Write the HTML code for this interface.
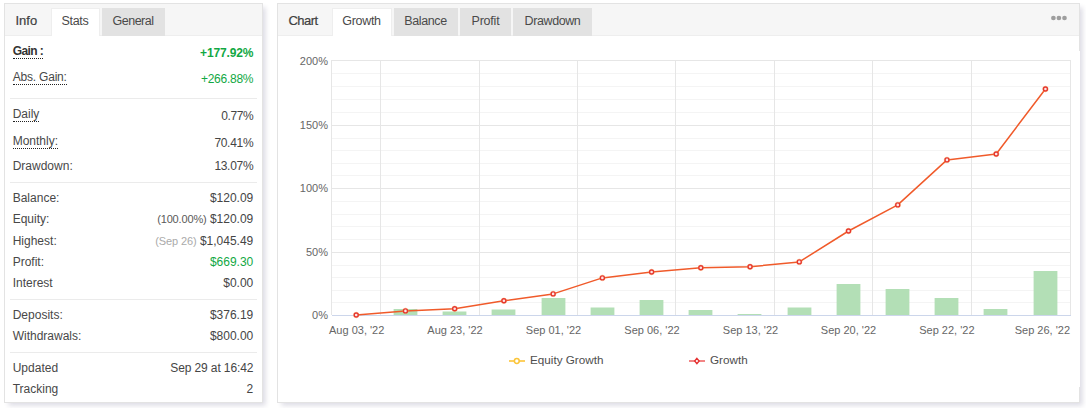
<!DOCTYPE html>
<html><head><meta charset="utf-8">
<style>
*{box-sizing:border-box;margin:0;padding:0}
html,body{width:1086px;height:408px;overflow:hidden;background:#fff}
body{position:relative;font-family:"Liberation Sans",sans-serif;color:#333}
.panel{position:absolute;background:#fff;border:1px solid #e3e3e3;box-shadow:3px 3px 5px -0.5px rgba(40,30,90,0.16)}
.tabbar{position:absolute;left:0;top:0;right:0;height:32px;background:#f6f6f6;border-bottom:1px solid #eeeeee}
.tab{position:absolute;top:4px;height:28px;background:#e2e2e2;font-size:12.5px;line-height:15px;color:#4a4a4a;text-align:center;padding-top:6px;white-space:nowrap}
.tab.act{background:#fff;height:28px;border:1px solid #eee;border-bottom:none;padding-top:5px}
.lbl{position:absolute;font-size:13px;line-height:15px;color:#404040;white-space:nowrap;-webkit-text-stroke:0.2px #404040}
.r{position:absolute;left:7.7px;width:240.6px;height:14px;font-size:12px;line-height:14px;white-space:nowrap}
.r .k{position:absolute;left:0;top:0;color:#484848}
.r .k.u{border-bottom:1px dotted #222;height:15px}
.r .v{position:absolute;right:0;top:0;color:#454545;text-align:right}
.g{color:#12a844!important}
.sep{position:absolute;left:5px;width:247px;height:1px;background:#ebebeb}
.sm{font-size:11px;color:#5a5a5a}
.lt{font-size:11px;color:#aaa}
</style></head><body>

<!-- LEFT PANEL -->
<div class="panel" style="left:4px;top:3px;width:259px;height:400px">
  <div class="tabbar"></div>
  <div class="lbl" style="left:10.5px;top:9px">Info</div>
  <div class="tab act" style="left:46px;width:49px;letter-spacing:-0.3px;text-indent:-1px">Stats</div>
  <div class="tab" style="left:97px;width:63px;letter-spacing:-0.5px;text-indent:-1px">General</div>

  <div class="r" style="top:40px"><span class="k u" style="font-weight:bold;color:#333;letter-spacing:-0.6px">Gain :</span><span class="v g" style="top:2px;font-weight:bold;letter-spacing:-0.15px">+177.92%</span></div>
  <div class="r" style="top:66px"><span class="k u" style="letter-spacing:-0.2px">Abs. Gain:</span><span class="v g" style="top:2px;letter-spacing:-0.25px">+266.88%</span></div>
  <div class="sep" style="top:94px"></div>
  <div class="r" style="top:103px"><span class="k u">Daily</span><span class="v" style="top:2px;letter-spacing:-0.4px">0.77%</span></div>
  <div class="r" style="top:130px"><span class="k u">Monthly:</span><span class="v" style="top:2px;letter-spacing:-0.3px">70.41%</span></div>
  <div class="r" style="top:155px"><span class="k">Drawdown:</span><span class="v" style="letter-spacing:-0.3px">13.07%</span></div>
  <div class="sep" style="top:178px"></div>
  <div class="r" style="top:187px"><span class="k">Balance:</span><span class="v">$120.09</span></div>
  <div class="r" style="top:208px"><span class="k">Equity:</span><span class="v"><span class="sm" style="letter-spacing:-0.15px">(100.00%)</span> $120.09</span></div>
  <div class="r" style="top:230px"><span class="k">Highest:</span><span class="v"><span class="lt" style="letter-spacing:-0.1px">(Sep 26)</span> $1,045.49</span></div>
  <div class="r" style="top:251px"><span class="k">Profit:</span><span class="v g">$669.30</span></div>
  <div class="r" style="top:272px"><span class="k">Interest</span><span class="v">$0.00</span></div>
  <div class="sep" style="top:295px"></div>
  <div class="r" style="top:304px"><span class="k">Deposits:</span><span class="v">$376.19</span></div>
  <div class="r" style="top:325px"><span class="k">Withdrawals:</span><span class="v">$800.00</span></div>
  <div class="sep" style="top:348px"></div>
  <div class="r" style="top:357px"><span class="k">Updated</span><span class="v" style="letter-spacing:-0.12px">Sep 29 at 16:42</span></div>
  <div class="r" style="top:378px"><span class="k">Tracking</span><span class="v">2</span></div>
</div>

<!-- RIGHT PANEL -->
<div class="panel" style="left:277px;top:3px;width:803px;height:400px">
  <div class="tabbar"></div>
  <div class="lbl" style="left:10.5px;top:9px;letter-spacing:-0.55px">Chart</div>
  <div class="tab act" style="left:54px;width:60px;letter-spacing:-0.3px;text-indent:-1px">Growth</div>
  <div class="tab" style="left:116px;width:64px;letter-spacing:-0.4px;text-indent:-1px">Balance</div>
  <div class="tab" style="left:182px;width:51px;letter-spacing:-0.2px">Profit</div>
  <div class="tab" style="left:235px;width:79px;letter-spacing:-0.4px">Drawdown</div>
</div>

<div style="position:absolute;left:1079px;top:51px;width:1px;height:336px;background:#fff"></div>
<svg width="1086" height="408" style="position:absolute;left:0;top:0">
  <g fill="#9e9e9e"><circle cx="1053.4" cy="18" r="2.35"/><circle cx="1058.9" cy="18" r="2.35"/><circle cx="1064.5" cy="18" r="2.35"/></g>
  <!-- minor grid -->
  <g stroke="#f4f4f4" stroke-width="1" shape-rendering="crispEdges" ><line x1="332" y1="73.5" x2="1070" y2="73.5"/><line x1="332" y1="86.5" x2="1070" y2="86.5"/><line x1="332" y1="99.5" x2="1070" y2="99.5"/><line x1="332" y1="112.5" x2="1070" y2="112.5"/><line x1="332" y1="138.5" x2="1070" y2="138.5"/><line x1="332" y1="150.5" x2="1070" y2="150.5"/><line x1="332" y1="163.5" x2="1070" y2="163.5"/><line x1="332" y1="175.5" x2="1070" y2="175.5"/><line x1="332" y1="201.5" x2="1070" y2="201.5"/><line x1="332" y1="214.5" x2="1070" y2="214.5"/><line x1="332" y1="226.5" x2="1070" y2="226.5"/><line x1="332" y1="239.5" x2="1070" y2="239.5"/><line x1="332" y1="265.5" x2="1070" y2="265.5"/><line x1="332" y1="277.5" x2="1070" y2="277.5"/><line x1="332" y1="290.5" x2="1070" y2="290.5"/><line x1="332" y1="302.5" x2="1070" y2="302.5"/></g>
  <g stroke="#e6e6e6" stroke-width="1" shape-rendering="crispEdges" ><line x1="331" y1="60.5" x2="1071" y2="60.5"/><line x1="331" y1="125.5" x2="1071" y2="125.5"/><line x1="331" y1="188.5" x2="1071" y2="188.5"/><line x1="331" y1="252.5" x2="1071" y2="252.5"/><line x1="331.5" y1="60" x2="331.5" y2="315"/><line x1="380.5" y1="60" x2="380.5" y2="315"/><line x1="479.5" y1="60" x2="479.5" y2="315"/><line x1="577.5" y1="60" x2="577.5" y2="315"/><line x1="675.5" y1="60" x2="675.5" y2="315"/><line x1="774.5" y1="60" x2="774.5" y2="315"/><line x1="872.5" y1="60" x2="872.5" y2="315"/><line x1="971.5" y1="60" x2="971.5" y2="315"/><line x1="1070.5" y1="60" x2="1070.5" y2="315"/></g>
  <g fill="#b3dfb6"><rect x="393.6" y="309" width="23.8" height="6"/><rect x="442.6" y="311.5" width="23.8" height="3.5"/><rect x="491.6" y="309.5" width="23.8" height="5.5"/><rect x="541.6" y="298" width="23.8" height="17"/><rect x="590.6" y="307.5" width="23.8" height="7.5"/><rect x="639.6" y="300" width="23.8" height="15"/><rect x="688.6" y="310" width="23.8" height="5"/><rect x="737.6" y="314" width="23.8" height="1"/><rect x="787.6" y="307.5" width="23.8" height="7.5"/><rect x="836.6" y="284" width="23.8" height="31"/><rect x="885.6" y="289" width="23.8" height="26"/><rect x="934.6" y="298" width="23.8" height="17"/><rect x="983.6" y="309" width="23.8" height="6"/><rect x="1033.6" y="271" width="23.8" height="44"/></g>
  <line x1="332" y1="315.5" x2="1071" y2="315.5" stroke="#ccd6eb" stroke-width="1"/>
  <polyline fill="none" stroke="#f05a2a" stroke-width="1.5" stroke-linejoin="round" points="356.22,315 405.45,310.9 454.68,308.8 503.9,300.8 553.13,293.9 602.37,277.9 651.6,272 700.83,267.8 750.06,266.8 799.28,261.9 848.51,231 897.75,204.9 946.98,159.9 996.2,154 1045.43,89"/>
  <g fill="#fde6e4" stroke="#e6362e" stroke-width="1.4"><circle cx="356.22" cy="315" r="2.8" fill="none" stroke="#f9a94a" stroke-width="0.8" stroke-opacity="0.55"/><circle cx="356.22" cy="315" r="2.0"/><circle cx="405.45" cy="310.9" r="2.8" fill="none" stroke="#f9a94a" stroke-width="0.8" stroke-opacity="0.55"/><circle cx="405.45" cy="310.9" r="2.0"/><circle cx="454.68" cy="308.8" r="2.8" fill="none" stroke="#f9a94a" stroke-width="0.8" stroke-opacity="0.55"/><circle cx="454.68" cy="308.8" r="2.0"/><circle cx="503.9" cy="300.8" r="2.8" fill="none" stroke="#f9a94a" stroke-width="0.8" stroke-opacity="0.55"/><circle cx="503.9" cy="300.8" r="2.0"/><circle cx="553.13" cy="293.9" r="2.8" fill="none" stroke="#f9a94a" stroke-width="0.8" stroke-opacity="0.55"/><circle cx="553.13" cy="293.9" r="2.0"/><circle cx="602.37" cy="277.9" r="2.8" fill="none" stroke="#f9a94a" stroke-width="0.8" stroke-opacity="0.55"/><circle cx="602.37" cy="277.9" r="2.0"/><circle cx="651.6" cy="272" r="2.8" fill="none" stroke="#f9a94a" stroke-width="0.8" stroke-opacity="0.55"/><circle cx="651.6" cy="272" r="2.0"/><circle cx="700.83" cy="267.8" r="2.8" fill="none" stroke="#f9a94a" stroke-width="0.8" stroke-opacity="0.55"/><circle cx="700.83" cy="267.8" r="2.0"/><circle cx="750.06" cy="266.8" r="2.8" fill="none" stroke="#f9a94a" stroke-width="0.8" stroke-opacity="0.55"/><circle cx="750.06" cy="266.8" r="2.0"/><circle cx="799.28" cy="261.9" r="2.8" fill="none" stroke="#f9a94a" stroke-width="0.8" stroke-opacity="0.55"/><circle cx="799.28" cy="261.9" r="2.0"/><circle cx="848.51" cy="231" r="2.8" fill="none" stroke="#f9a94a" stroke-width="0.8" stroke-opacity="0.55"/><circle cx="848.51" cy="231" r="2.0"/><circle cx="897.75" cy="204.9" r="2.8" fill="none" stroke="#f9a94a" stroke-width="0.8" stroke-opacity="0.55"/><circle cx="897.75" cy="204.9" r="2.0"/><circle cx="946.98" cy="159.9" r="2.8" fill="none" stroke="#f9a94a" stroke-width="0.8" stroke-opacity="0.55"/><circle cx="946.98" cy="159.9" r="2.0"/><circle cx="996.2" cy="154" r="2.8" fill="none" stroke="#f9a94a" stroke-width="0.8" stroke-opacity="0.55"/><circle cx="996.2" cy="154" r="2.0"/><circle cx="1045.43" cy="89" r="2.8" fill="none" stroke="#f9a94a" stroke-width="0.8" stroke-opacity="0.55"/><circle cx="1045.43" cy="89" r="2.0"/></g>
  <g font-family="Liberation Sans" font-size="11" fill="#666" text-anchor="end" id="ylab">
    <text x="328" y="65">200%</text><text x="328" y="129">150%</text><text x="328" y="192">100%</text><text x="328" y="256">50%</text><text x="328" y="319">0%</text>
  </g>
  <g font-family="Liberation Sans" font-size="11" fill="#666" text-anchor="middle" id="xlab">
    <text x="356.7" y="334">Aug 03, '22</text><text x="455" y="334">Aug 23, '22</text><text x="553.5" y="334">Sep 01, '22</text><text x="652" y="334">Sep 06, '22</text><text x="750.5" y="334">Sep 13, '22</text><text x="848.5" y="334">Sep 20, '22</text><text x="946.9" y="334">Sep 22, '22</text><text x="1042.4" y="334">Sep 26, '22</text>
  </g>
  <!-- legend -->
  <line x1="509" y1="361" x2="525" y2="361" stroke="#fdd060" stroke-width="2"/>
  <circle cx="516.8" cy="361" r="2.4" fill="#fff" stroke="#fbc53a" stroke-width="1.5"/>
  <text x="530" y="364" font-family="Liberation Sans" font-size="11.7" fill="#4e4e4e">Equity Growth</text>
  <line x1="689" y1="361" x2="705" y2="361" stroke="#f28585" stroke-width="2"/>
  <path d="M696.9 358.4 L699.1 361 L696.9 363.6 L694.7 361 Z" fill="#fff" stroke="#e53030" stroke-width="1.4"/>
  <text x="710" y="364" font-family="Liberation Sans" font-size="11.7" fill="#4e4e4e">Growth</text>
</svg>

</body></html>
